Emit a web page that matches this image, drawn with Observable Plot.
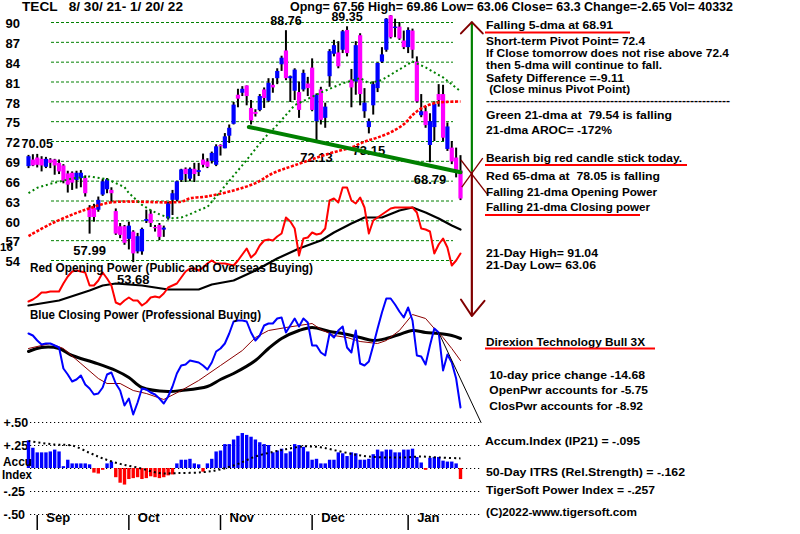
<!DOCTYPE html>
<html><head><meta charset="utf-8">
<script src="https://cdn.jsdelivr.net/npm/d3@7"></script>
<script src="https://cdn.jsdelivr.net/npm/@observablehq/plot@0.6"></script>
<style>
body{margin:0;background:#fff;}
#chart{position:relative;width:800px;height:534px;overflow:hidden;background:#fff;}
#chart svg{position:absolute;left:0;top:0;}
</style></head><body><div id="chart"></div>
<script>
// ---------- DATA ----------
const opens = [68.2,69.2,69.5,69.3,68.1,69.2,69.2,68.7,68.3,67.1, 67.2,66.1,66.4,66.4,61.9,61.9,61.6,63.9,64.7,64.6, 61.4,59.1,59.1,57.2,58.3,55.3,55.3,59.9,61.0,59.0, 59.3,58.6,60.3,63.1,63.1,66.1,67.8,66.3,67.8,67.3, 69.2,68.9,69.0,68.4,71.4,70.9,72.8,74.6,79.0,79.3, 80.4,77.0,76.4,76.7,79.8,78.1,80.5,81.5,83.6,85.7, 81.5,79.6,79.4,79.8,80.7,83.1,75.0,79.8,75.5,81.8, 85.2,85.4,85.8,88.8,81.3,81.0,88.0,76.5,74.1,77.4, 80.0,84.0,85.8,91.0,89.1,89.3,87.2,86.2,88.7,84.0, 75.9,76.5,71.4,74.1,79.1,79.1,70.8,71.0,69.5,67.56];
const highs = [69.9,70.0,70.05,69.7,69.6,69.4,69.3,69.2,68.5,67.5, 67.4,67.5,67.6,66.8,62.3,62.5,63.6,66.3,66.4,65.0, 61.8,59.6,59.3,59.8,58.5,58.1,58.9,61.6,61.6,59.3, 59.6,59.2,62.8,64.6,66.0,67.8,68.0,68.0,68.7,68.7, 70.1,69.4,70.4,71.5,71.5,73.2,74.5,77.9,79.9,80.3, 80.4,78.2,76.8,79.1,80.1,81.5,81.5,83.0,84.9,88.76, 81.9,83.0,81.0,82.8,81.7,84.5,79.2,80.2,77.8,85.9, 87.3,87.1,88.8,89.35,82.9,87.1,88.3,80.0,75.4,81.0, 83.9,86.2,90.6,91.04,90.5,90.0,88.7,89.2,89.0,84.8, 79.1,77.3,76.2,78.0,80.6,80.5,74.8,72.0,71.0,69.86];
const lows = [67.9,68.2,68.0,67.4,67.9,67.9,66.9,67.0,65.6,64.2, 64.6,64.8,65.0,63.6,57.99,59.8,61.3,63.7,64.1,62.7, 57.8,57.3,56.3,55.6,53.68,55.0,54.8,59.6,59.0,58.3, 57.0,57.5,60.1,60.8,62.9,65.8,65.8,65.9,65.8,66.7, 68.0,67.9,68.6,68.2,69.8,70.9,71.7,74.5,77.1,78.8, 77.4,74.5,75.7,76.5,77.0,77.9,79.3,80.6,82.6,81.2, 77.9,78.2,75.5,79.5,78.8,76.5,72.13,74.5,74.0,80.2, 84.8,83.0,85.3,84.8,77.1,79.0,77.4,75.5,73.15,76.0, 79.4,83.8,85.5,87.5,87.7,87.3,85.9,85.3,84.5,77.8, 75.6,74.0,68.79,72.0,77.2,72.0,70.5,68.5,66.5,63.06];
const closes = [69.7,68.3,68.4,68.3,69.3,68.7,68.3,67.4,66.0,65.4, 65.7,67.2,67.2,64.1,60.5,60.5,63.1,65.9,66.2,64.1, 58.0,57.8,56.6,59.2,55.0,57.6,58.7,60.2,59.6,58.8, 57.5,58.9,62.6,64.1,65.9,67.7,67.0,67.8,67.0,67.6, 68.4,68.1,70.2,71.2,71.2,72.7,74.0,77.5,78.4,79.9, 78.8,75.1,76.1,78.8,78.5,80.8,80.1,82.6,84.6,81.5, 81.8,82.8,76.7,82.3,80.0,76.7,79.0,75.2,77.2,85.6, 86.5,83.3,88.6,85.3,80.1,86.5,79.1,77.8,75.0,80.6, 83.8,85.1,90.5,87.7,89.3,87.5,86.2,88.8,85.8,78.0, 76.5,74.4,75.0,77.6,78.2,72.5,74.2,68.9,67.2,63.3];

// 21-dma (green dotted) and 65-dma (red) as read: day index / value
const ma21Idx = [0,2,5,10,14,18,20,22,23,24,26,28,30,32,33,35,37,39,41,50,54,57,61,67,72,76,78,81,84,88,91,95,99];
const ma21Val = [64.2,65.0,65.6,66.4,66.7,66.3,65.7,65.1,64.2,63.6,62.4,61.6,61.0,60.5,60.4,60.5,61.0,61.6,62.1,69.2,72.5,74.5,77.5,79.4,80.8,81.6,80.8,81.3,82.5,84.1,83.2,81.7,79.6];
const ma65Idx = [0,5,11,14,19,35,37,41,47,52,56,61,69,74,76,78,80,83,86,88,90,93,96,99];
const ma65Val = [57.7,59.5,61.2,61.9,62.8,62.9,63.4,63.7,64.6,65.7,67.2,68.4,70.2,71.1,71.7,72.2,72.6,73.4,74.6,76.0,77.0,77.8,78.0,78.05];
const supportIdx = [50.5, 99];
const supportVal = [74.2, 67.35];
const highLabels = [{i:2,p:70.05},{i:59,p:88.76},{i:73,p:89.35}];
const lowLabels = [{i:14,p:57.99},{i:24,p:53.68},{i:66,p:72.13},{i:78,p:73.15},{i:92,p:68.79}];
const priceTicks = [90,87,84,81,78,75,72,69,66,63,60,57,54];

// Opening power (red) and its average (black)
const openPower = [9,11,14,18,18,19,19,19,27,34, 39,40,39,38,25,25,30,38,32,25, 8,6,10,13,10,10,5,8,13,14, 13,17,23,25,27,33,39,42,42,40, 43,47,50,47,47,47,46,45,50,56, 62,53,57,65,70,71,70,74,77,93, 89,82,55,72,73,78,76,77,82,110, 112,108,123,123,110,107,113,103,77,90, 93,96,99,102,103,103,103,103,103,98, 82,81,79,57,66,72,63,45,50,57];
const opMaIdx = [0,7,14,17,20,26,32,39,42,47,52,57,62,67,70,74,77,81,85,88,91,94,97,99];
const opMaVal = [5,10,20,25,27,25,21,21,26,30,40,52,62,70,78,87,93,93,100,103,98,92,85,81];

// Closing power (blue) and averages
const closePower = [97,95,90,86,87,87,85,83,62,56, 49,51,55,46,42,36,37,43,56,58, 47,40,25,32,16,28,42,41,38,36, 32,27,34,44,57,65,66,70,69,68, 65,61,68,79,82,87,97,109,110,110, 109,98,90,95,105,107,107,112,113,98, 105,112,104,112,108,85,85,78,75,97, 93,100,104,83,78,100,67,65,69,85, 102,118,132,132,126,119,113,123,110,75, 74,66,85,102,98,60,76,68,52,23];
const cpMaIdx = [0,3,7,10,15,20,23,26,32,35,41,44,47,52,55,58,62,65,69,72,76,79,82,85,88,91,94,97,99];
const cpMaVal = [79,83,82,75,68,60,53,43,39,40,44,51,57,70,82,92,100,103,99,97,93,90,92,96,100,98,97,95,92];
const cpMa2Idx = [0,5,8,12,16,18,21,24,27,31,35,39,44,49,52,55,59,62,65,67,70,73,76,80,82,85,88,91,93,95,97,99];
const cpMa2Val = [82,87,82,67,52,47,47,40,37,31,40,50,65,80,93,100,103,105,107,101,95,93,89,87,90,100,116,112,102,93,82,70];
const cpTrendIdx = [94, 103.7];
const cpTrendVal = [98, 8];

// Accumulation index (IP21) and its average
const accum = [.30,.22,.17,.17,.17,.18,.20,.18,.02,.09, .05,.05,.05,.05,.04,-.05,-.06,-.02,.05,.07, -.10,-.16,-.18,-.12,-.11,-.10,-.12,-.11,-.09,-.10, -.11,-.10,-.08,-.07,.05,.09,.09,.10,.05,.04, -.04,.05,.10,.18,.19,.26,.26,.31,.35,.38, .36,.34,.31,.28,.26,.25,.17,.19,.21,.16, .18,.26,.25,.23,.18,.09,.10,.05,.05,.09, .09,.17,.16,.13,.17,.16,.09,.09,.10,.15, .20,.18,.20,.20,.17,.17,.20,.20,.21,.12, .06,-.02,.11,.12,.12,.08,.07,.07,.05,-.12];
const accMaIdx = [0,6,10,14,17,21,25,30,34,40,44,48,52,56,59,63,67,71,75,78,82,86,90,94,99];
const accMaVal = [.30,.26,.25,.17,.11,.05,.01,-.05,-.05,-.04,-.01,.05,.13,.18,.21,.24,.23,.19,.15,.13,.12,.12,.13,.12,.11];
const accTicks = [0.5,0.25,0,-0.25,-0.5];
const accLabelTicks = [0.5,0.25,-0.25,-0.5];
const accTickLabels = ["+.50","+.25","-.25","-.50"];

const months = ["Sep","Oct","Nov","Dec","Jan"];
const monthIdx = [2,23,44,65,87];

// signal arrow (day index, price levels)
const signal = {x:101.6, top:90.05, pivot:67.35, bottom:45.6};

const headerLeft = "TECL   8/ 30/ 21- 1/ 20/ 22";
const headerRight = "Opng= 67.56 High= 69.86 Low= 63.06 Close= 63.3 Change=-2.65 Vol= 40332";
const notes = [
  "Falling 5-dma at 68.91",
  "Short-term Pivot Point= 72.4",
  "If Close tomorrow does not rise above 72.4",
  "then 5-dma will continue to fall.",
  "Safety Difference =-9.11",
  " (Close minus Pivot Point)",
  "-------------------------------------------------------------",
  "Green 21-dma at  79.54 is falling",
  "21-dma AROC= -172%",
  "Bearish big red candle stick today.",
  "Red 65-dma at  78.05 is falling",
  "Falling 21-dma Opening Power",
  "Falling 21-dma Closing power",
  "21-Day High= 91.04",
  "21-Day Low= 63.06",
  "Direxion Technology Bull 3X",
  " 10-day price change -14.68",
  " OpenPwr accounts for -5.75",
  " ClosPwr accounts for -8.92",
  "Accum.Index (IP21) = -.095",
  "50-Day ITRS (Rel.Strength) = -.162",
  "TigerSoft Power Index = -.257",
  "(C)2022-www.tigersoft.com"
];

// ---------- DRAWING ----------
const W = 800, H = 534;
const FONT = "'Liberation Sans', Arial, sans-serif";
const BLUE = "#0000ff", MAGENTA = "#ff00ff", RED = "#ff0000", GREEN = "#008000", MAROON = "#800000";
const chart = document.getElementById("chart");
const days = d3.range(opens.length);
const candles = days.map(i => ({i, o: opens[i], h: highs[i], l: lows[i], c: closes[i]}));
const pairs = (idx, val) => idx.map((i, k) => ({i, v: val[k]}));
const baseStyle = {background: "transparent", fontFamily: FONT, overflow: "visible"};
const xOpt = {domain: [0, 99], axis: null};

function add(opts) {
  const svg = Plot.plot(Object.assign({width: W, height: H, marginLeft: 28, marginRight: 340,
    x: xOpt, style: baseStyle}, opts));
  chart.appendChild(svg);
}

// price grid
add({marginLeft: 51, marginRight: 347, marginTop: 22, marginBottom: 274,
  y: {domain: [54, 90], axis: null},
  marks: [Plot.gridY(priceTicks, {stroke: GREEN, strokeOpacity: 1, strokeWidth: 1, strokeDasharray: "3,2"})]});

// opening power panel
add({marginTop: 180, marginBottom: 224, y: {domain: [0, 130], axis: null},
  marks: [
    Plot.line(pairs(opMaIdx, opMaVal), {x: "i", y: "v", stroke: "#000", strokeWidth: 2.2}),
    Plot.line(days.map(i => ({i, v: openPower[i]})), {x: "i", y: "v", stroke: RED, strokeWidth: 2})
  ]});

// closing power panel
add({marginTop: 280, marginBottom: 104, y: {domain: [0, 150], axis: null},
  marks: [
    Plot.line(pairs(cpMaIdx, cpMaVal), {x: "i", y: "v", stroke: "#000", strokeWidth: 3, curve: "catmull-rom"}),
    Plot.line(pairs(cpMa2Idx, cpMa2Val), {x: "i", y: "v", stroke: "#8b0000", strokeWidth: 1}),
    Plot.line(days.map(i => ({i, v: closePower[i]})), {x: "i", y: "v", stroke: BLUE, strokeWidth: 2}),
    Plot.line(pairs(cpTrendIdx, cpTrendVal), {x: "i", y: "v", stroke: "#000", strokeWidth: 1})
  ]});

// price panel
const hx = 2.5, hy = 1.7;
add({marginTop: 22, marginBottom: 274, y: {domain: [54, 90], axis: null}, color: {type: "identity"},
  marks: [
    Plot.ruleX(candles, {x: "i", y1: "l", y2: "h", stroke: "#000", strokeWidth: 2}),
    Plot.ruleX(candles, {x: "i", y1: "o", y2: "c", stroke: d => d.c >= d.o ? BLUE : MAGENTA, strokeWidth: 4.2}),
    Plot.text(highLabels, {x: "i", y: "p", text: d => d.p.toFixed(2), dy: -10, fontSize: 12.5, fontWeight: "bold", fill: "#000"}),
    Plot.text(lowLabels, {x: "i", y: "p", text: d => d.p.toFixed(2), dy: 17, fontSize: 13, fontWeight: "bold", fill: "#000"}),
    Plot.line(pairs(ma65Idx, ma65Val), {x: "i", y: "v", stroke: RED, strokeWidth: 2.6, strokeDasharray: "3,1.6", strokeLinecap: "butt", curve: "catmull-rom"}),
    Plot.line(pairs(ma21Idx, ma21Val), {x: "i", y: "v", stroke: GREEN, strokeWidth: 2, strokeDasharray: "2,2.8", strokeLinecap: "butt"}),
    Plot.line(pairs(supportIdx, supportVal), {x: "i", y: "v", stroke: GREEN, strokeWidth: 4}),
    Plot.text(priceTicks, {y: d => d, text: d => String(d), frameAnchor: "left", textAnchor: "start", dx: -23, dy: 1.5, fontSize: 13, fontWeight: "bold", fill: "#000"}),
    // signal arrow
    Plot.ruleX([signal], {x: "x", y1: "pivot", y2: "top", stroke: GREEN, strokeWidth: 2.2}),
    Plot.ruleX([signal], {x: "x", y1: "bottom", y2: "pivot", stroke: MAROON, strokeWidth: 2.2}),
    Plot.line([{x: signal.x - hx, y: signal.top - hy}, {x: signal.x, y: signal.top}, {x: signal.x + hx, y: signal.top - hy}], {x: "x", y: "y", stroke: MAROON, strokeWidth: 2}),
    Plot.line([{x: signal.x - hx, y: signal.bottom + 2.5}, {x: signal.x, y: signal.bottom}, {x: signal.x + hx + 0.4, y: signal.bottom + 2.3}], {x: "x", y: "y", stroke: MAROON, strokeWidth: 2}),
    Plot.link([signal], {x1: d => d.x - 2.5, y1: d => d.pivot + 1.85, x2: d => d.x + 3.7, y2: d => d.pivot - 3.45, stroke: MAROON, strokeWidth: 1.3}),
    Plot.link([signal], {x1: d => d.x - 2.3, y1: d => d.pivot - 2.25, x2: d => d.x + 2.5, y2: d => d.pivot + 2.15, stroke: MAROON, strokeWidth: 1.3})
  ]});

// accumulation grid
add({marginLeft: 30, marginRight: 320, marginTop: 422, marginBottom: 20, y: {domain: [-0.5, 0.5], axis: null},
  marks: [Plot.gridY(accTicks, {stroke: "#000", strokeOpacity: 1, strokeWidth: 1.2, strokeDasharray: "1.2,2.8"})]});

// accumulation index
add({marginTop: 422, marginBottom: 20, y: {domain: [-0.5, 0.5], axis: null}, color: {type: "identity"},
  marks: [
    Plot.text(accLabelTicks, {y: d => d, text: (d, k) => accTickLabels[k], frameAnchor: "left", textAnchor: "start", dx: -25, fontSize: 12.5, fontWeight: "bold", fill: "#000"}),
    Plot.ruleX(days.map(i => ({i, v: accum[i]})), {x: "i", y1: 0, y2: "v", stroke: d => d.v >= 0 ? BLUE : RED, strokeWidth: 3.4}),
    Plot.line(pairs(accMaIdx, accMaVal), {x: "i", y: "v", stroke: "#000", strokeWidth: 2, strokeDasharray: "2,3", strokeLinecap: "butt", curve: "catmull-rom"})
  ]});

// month axis
add({marginTop: 515, marginBottom: 4, y: {axis: null},
  marks: [
    Plot.ruleX(monthIdx, {x: d => d, stroke: "#000", strokeWidth: 1.5}),
    Plot.text(monthIdx, {x: d => d, text: (d, k) => months[k], frameAnchor: "bottom", textAnchor: "start", dx: 9, dy: -9, fontSize: 13, fontWeight: "bold", fill: "#000"})
  ]});

// ---------- TEXT OVERLAY ----------
const ov = d3.select(chart).append("svg").attr("width", W).attr("height", H);
function txt(s, x, y, size, len) {
  const t = ov.append("text").attr("x", x).attr("y", y).attr("font-size", size).attr("font-weight", "bold")
    .attr("font-family", FONT).attr("fill", "#000").style("white-space", "pre").text(s);
  if (len) t.attr("textLength", len).attr("lengthAdjust", "spacingAndGlyphs");
}
function underline(x1, x2, y) {
  ov.append("line").attr("x1", x1).attr("x2", x2).attr("y1", y).attr("y2", y).attr("stroke", RED).attr("stroke-width", 2);
}
txt(headerLeft, 22, 11, 13, 161);
txt(headerRight, 290, 11, 13, 443);

const noteLayout = [
  [486,29,127],[486,45,159],[486,57,243],[486,69,176],[486,82,138],[486,93,144],[486,104,244],
  [486,119,186],[486,134,126],[486,162,196],[486,180,174],[486,196,171],[486,211,164],
  [486,257,112],[486,269,110],[486,346,159],[486,379,159],[486,394,162],[486,410,157],
  [485,445,155],[486,476,199],[486,494,169],[486,516,151]
];
notes.forEach((s, k) => { const [x, y, len] = noteLayout[k]; txt(s, x, y, 11.5, len); });
underline(485, 630, 32.5);
underline(485, 687, 165);
underline(485, 640, 215);
underline(485, 655, 348.5);

txt("Red Opening Power (Public and Overseas Buying)", 30, 272, 12, 283);
txt("Blue Closing Power (Professional Buying)", 30, 319, 12, 231);
txt("16", 0, 251, 11.5);
txt("Accu", 3, 466, 12, 29);
txt("Index", 2, 479, 12, 30);
</script></body></html>
